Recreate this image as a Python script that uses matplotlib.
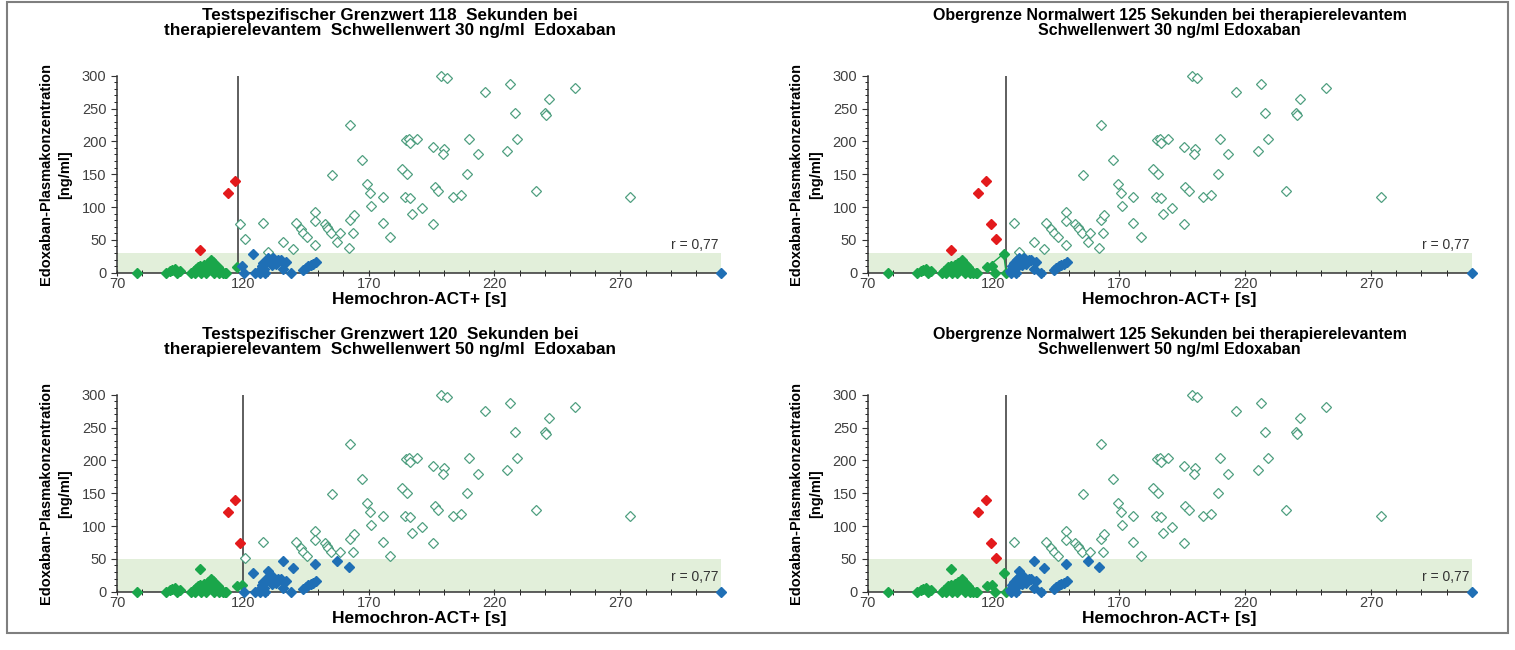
import numpy as np
import matplotlib
matplotlib.use("Agg")
import matplotlib.pyplot as plt
from matplotlib.patches import Rectangle

plt.rcParams['font.family'] = ['Liberation Sans', 'DejaVu Sans']

# Hemochron-ACT+ [s] und Edoxaban [ng/ml]
act = [78, 89.5, 91, 92, 93, 94, 95,
       99.5, 100.5, 101, 101.5, 102, 103, 103.5, 104, 104.5, 105, 105.5, 106, 107,
       107.5, 108, 108.5, 109, 109.5, 110, 110.5, 111, 112, 113, 113.5, 117.5,
       119.5, 120.5, 124, 125,
       126.5, 127, 127.5, 128, 128.5, 129, 129.5, 130, 131, 131.5, 132, 133, 134, 135,
       136, 137, 139, 144, 145, 146, 147, 148, 149,
       103, 114, 117,
       119, 121, 128, 130, 136, 140, 141, 143, 144, 145.5, 148.6, 148.6, 148.6,
       152.5, 153.5, 154, 155, 155.4, 157.5, 158.5, 162, 162.6, 162.6, 164, 163.6,
       167.5, 169.3, 170.5, 171, 175.5, 175.5, 178.4, 183.3, 185.4, 185, 186, 186.5,
       189.3, 184.4, 186.6, 187.2, 191, 195.5, 200, 199.5, 198.8, 201, 196.2, 197.5,
       195.5, 203.4, 206.5, 209, 210, 213.3, 216.2, 226.2, 225, 228, 229, 236.3,
       240, 240.5, 241.8, 252, 274,
       310]
edox = [0, 0, 2, 4, 5, 0, 2,
        0, 3, 0, 5, 8, 10, 0, 7, 12, 3, 0, 15, 10,
        20, 17, 0, 12, 5, 8, 0, 3, 0, 0, 0, 8,
        10, 0, 29, 0,
        3, 0, 10, 15, 6, 0, 20, 22, 17, 12, 22, 14, 20, 19,
        5, 17, 0, 4, 7, 10, 12, 14, 16,
        35, 122, 140,
        74, 51, 76, 31, 46, 36, 75, 66, 60, 55, 93, 79, 42,
        74, 70, 66, 61, 149, 46, 60, 38, 225, 80, 88, 61,
        172, 135, 121, 102, 116, 75, 55, 158, 151, 202, 204, 197,
        204, 116, 113, 90, 99, 191, 188, 180, 300, 297, 131, 125,
        74, 115, 119, 151, 204, 180, 275, 287, 186, 243, 204, 125,
        243, 240, 264, 281, 115,
        0]

titles = ["Testspezifischer Grenzwert 118  Sekunden bei\ntherapierelevantem  Schwellenwert 30 ng/ml  Edoxaban",
          "Obergrenze Normalwert 125 Sekunden bei therapierelevantem\nSchwellenwert 30 ng/ml Edoxaban",
          "Testspezifischer Grenzwert 120  Sekunden bei\ntherapierelevantem  Schwellenwert 50 ng/ml  Edoxaban",
          "Obergrenze Normalwert 125 Sekunden bei therapierelevantem\nSchwellenwert 50 ng/ml Edoxaban"]
cutoffs = [118, 125, 120, 125]
thresholds = [30, 30, 50, 50]
r_text = "r = 0,77"
r_y = [42, 42, 22, 22]

x = np.array(act)
y = np.array(edox)

W, H = 1515, 650
fig = plt.figure(figsize=(W / 100, H / 100), dpi=100)

# Rahmen
fig.patches.append(Rectangle((7 / W, 1 - 633 / H), 1501 / W, 631 / H, transform=fig.transFigure,
                             fill=False, edgecolor='#7f7f7f', lw=1.5))

pos = [(117, 272.7), (867.7, 272.7), (117, 591.7), (867.7, 591.7)]
title_x = [0.452, 0.5, 0.452, 0.5]
title_fs = [12.3, 11.5, 12.3, 11.5]
for i in range(4):
    x0, y0 = pos[i]
    ax = fig.add_axes([x0 / W, 1 - y0 / H, 604 / W, 197 / H])
    cut, thr = cutoffs[i], thresholds[i]

    ax.axhspan(0, thr, color='#e2efda', zorder=0, lw=0)
    ax.axvline(cut, color='#333333', lw=1.1, zorder=1)

    green = (x <= cut) & (y <= thr)
    red = (x <= cut) & (y > thr)
    blue = (x > cut) & (y <= thr)
    opn = (x > cut) & (y > thr)

    if i == 1:
        # Verbindungslinie im Original
        ax.plot([117.5, 124, 125], [8, 29, 0], color='#1aa64a', lw=1, zorder=2)

    ax.plot(x[opn], y[opn], 'D', ms=5.5, mfc='white', mec='#4f9f80', mew=0.9,
            ls='none', zorder=3, clip_on=False)
    ax.plot(x[green], y[green], 'D', ms=4.8, color='#1aa64a', ls='none', zorder=4, clip_on=False)
    ax.plot(x[blue], y[blue], 'D', ms=4.8, color='#1f6fb5', ls='none', zorder=4, clip_on=False)
    ax.plot(x[red], y[red], 'D', ms=4.8, color='#e31a1c', ls='none', zorder=4, clip_on=False)

    ax.set_xlim(70, 310)
    ax.set_ylim(0, 300)
    ax.set_xticks(np.arange(70, 271, 50))
    ax.set_xticks(np.arange(70, 311, 10), minor=True)
    ax.set_yticks(np.arange(0, 301, 50))
    ax.set_yticks(np.arange(0, 301, 10), minor=True)
    for s in ['top', 'right']:
        ax.spines[s].set_visible(False)
    for s in ['left', 'bottom']:
        ax.spines[s].set_color('#333333')
        ax.spines[s].set_linewidth(1.1)
    ax.tick_params(axis='both', which='major', labelsize=10.5, colors='#333333', labelcolor='#404040')
    ax.tick_params(axis='x', which='both', direction='inout', length=5, pad=0.5)
    ax.tick_params(axis='y', which='major', direction='out', length=4)
    ax.tick_params(axis='y', which='minor', direction='out', length=2.5)
    ax.tick_params(axis='x', which='minor', length=4)
    ax.set_facecolor('none')

    ax.text(309, r_y[i], r_text, ha='right', va='center', fontsize=10, color='#333333')
    ax.set_title(titles[i], fontsize=title_fs[i], fontweight='bold', pad=29, linespacing=1.0,
                 x=title_x[i])
    ax.set_xlabel("Hemochron-ACT+ [s]", fontsize=12.5, fontweight='bold', labelpad=1)
    ax.set_ylabel("Edoxaban-Plasmakonzentration\n[ng/ml]", fontsize=10.5, fontweight='bold',
                  labelpad=7, linespacing=1.5)

fig.savefig("out.png", dpi=100, facecolor='white')
